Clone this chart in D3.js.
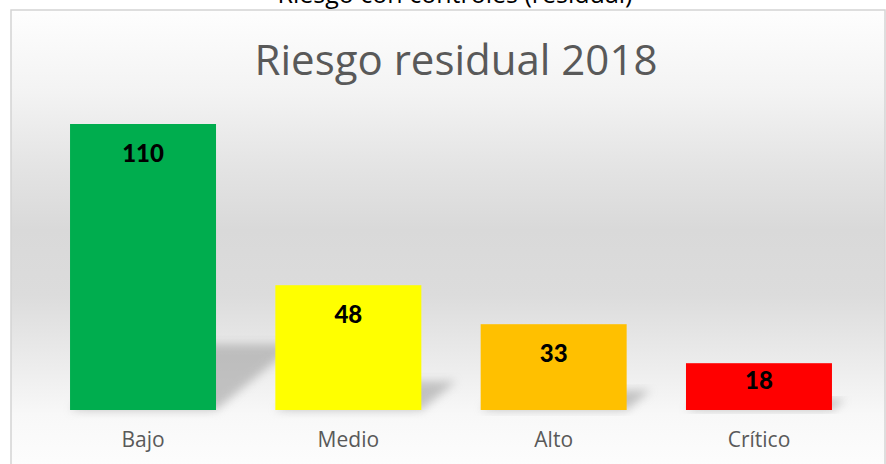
<!DOCTYPE html>
<html>
<head>
<meta charset="utf-8">
<script src="https://cdn.jsdelivr.net/npm/d3@7"></script>
<style>
  body { margin: 0; background: #fff; }
  svg { display: block; font-family: "Open Sans", Lato, sans-serif; }
</style>
</head>
<body>
<div id="chart"></div>
<script>
// data
var categories = ["Bajo", "Medio", "Alto", "Crítico"];
var values = [110, 48, 33, 18];
var colors = ["#00ad4e", "#ffff00", "#ffc000", "#ff0000"];
var pageTitle = "Riesgo con controles (residual)";
var chartTitle = "Riesgo residual 2018";

var width = 886, height = 464;
var baseY = 410, topY = 124;

var svg = d3.select("#chart").append("svg")
    .attr("width", width)
    .attr("height", height);

var defs = svg.append("defs");

// background gradient of the chart box
var grad = defs.append("linearGradient")
    .attr("id", "bg")
    .attr("gradientUnits", "userSpaceOnUse")
    .attr("x1", 0).attr("y1", 10).attr("x2", 0).attr("y2", 470);
[[0, "#fefefe"], [0.18, "#f3f3f3"], [0.35, "#e3e3e3"], [0.48, "#d9d9d9"],
 [0.62, "#dcdcdc"], [0.76, "#ebebeb"], [0.88, "#f8f8f8"], [1, "#fdfdfd"]]
    .forEach(function(s) {
        grad.append("stop").attr("offset", s[0]).attr("stop-color", s[1]);
    });

defs.append("filter")
    .attr("id", "blur")
    .attr("x", "-30%").attr("y", "-30%").attr("width", "160%").attr("height", "160%")
    .append("feGaussianBlur")
    .attr("stdDeviation", 5);

// page title above the box (cut off at the top, as in the original)
svg.append("text")
    .attr("x", 455)
    .attr("y", 3)
    .attr("text-anchor", "middle")
    .style("font-size", "25px")
    .style("fill", "#000")
    .text(pageTitle);

// chart box
svg.append("rect")
    .attr("x", 11).attr("y", 10)
    .attr("width", 874).attr("height", 470)
    .attr("fill", "url(#bg)")
    .attr("stroke", "#d4d4d4")
    .attr("stroke-width", 1.5);

svg.append("text")
    .attr("x", 456)
    .attr("y", 75)
    .attr("text-anchor", "middle")
    .style("font-size", "42px")
    .style("fill", "#595959")
    .text(chartTitle);

var x = d3.scaleBand()
    .domain(categories)
    .range([10.7, 891.3])
    .paddingInner(0.289)
    .paddingOuter(0.289);

var y = d3.scaleLinear()
    .domain([0, d3.max(values)])
    .range([baseY, topY]);

var data = categories.map(function(c, i) {
    return { key: c, value: values[i], color: colors[i] };
});

// perspective shadows behind the bars
svg.append("g").selectAll("path")
    .data(data)
    .enter()
    .append("path")
    .attr("d", function(d) {
        var h = y(0) - y(d.value);
        var x0 = x(d.key), x1 = x(d.key) + x.bandwidth();
        var dx = h * 0.28, dy = h * 0.23;
        return "M" + x0 + "," + y(0) + "L" + x1 + "," + y(0) +
            "L" + (x1 + dx) + "," + (y(0) - dy) + "L" + (x0 + dx) + "," + (y(0) - dy) + "Z";
    })
    .attr("fill", "#999")
    .attr("opacity", 0.55)
    .attr("filter", "url(#blur)");

// bars
svg.append("g").selectAll("rect")
    .data(data)
    .enter()
    .append("rect")
    .attr("x", function(d) { return x(d.key); })
    .attr("y", function(d) { return y(d.value); })
    .attr("width", x.bandwidth())
    .attr("height", function(d) { return y(0) - y(d.value); })
    .attr("fill", function(d) { return d.color; });

// value labels (inside end)
svg.append("g").selectAll("text")
    .data(data)
    .enter()
    .append("text")
    .attr("x", function(d) { return x(d.key) + x.bandwidth() / 2; })
    .attr("y", function(d) { return Math.min(y(d.value) + 38, y(0) - 21); })
    .attr("text-anchor", "middle")
    .style("font-family", "Lato, sans-serif")
    .style("font-size", "24px")
    .style("font-weight", "900")
    .style("fill", "#000")
    .text(function(d) { return d.value; });

// category axis
var xAxis = svg.append("g")
    .attr("transform", "translate(0," + baseY + ")")
    .call(d3.axisBottom(x).tickSize(0).tickPadding(22));
xAxis.select(".domain").remove();
xAxis.selectAll("text")
    .style("font-family", "'Open Sans', Lato, sans-serif")
    .style("font-size", "21px")
    .style("fill", "#595959");
</script>
</body>
</html>
